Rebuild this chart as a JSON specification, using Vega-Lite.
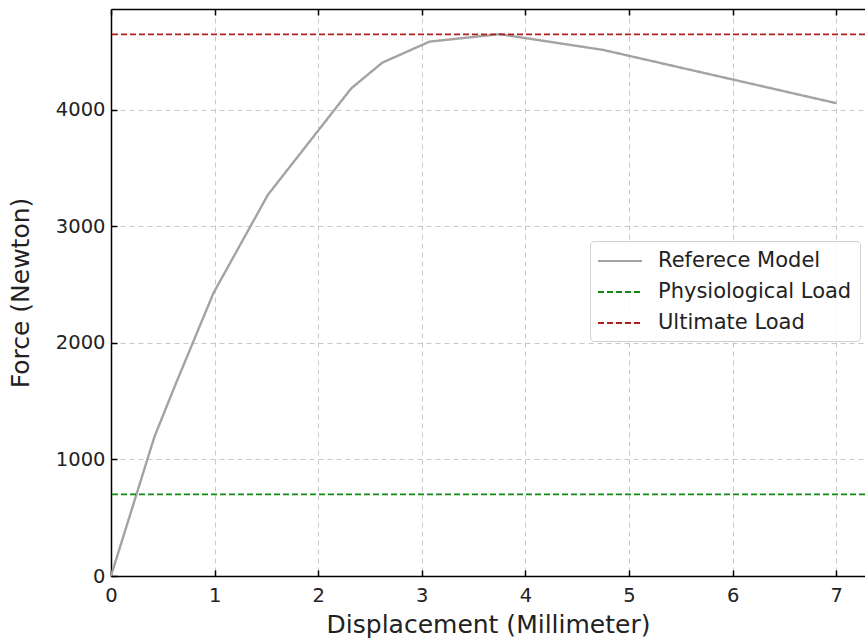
{
  "$schema": "https://vega.github.io/schema/vega-lite/v6.json",
  "width": 754,
  "height": 567,
  "autosize": {"type": "none"},
  "padding": {"left": 111, "top": 9, "right": 0, "bottom": 67},
  "background": "white",
  "config": {
    "view": {"stroke": null},
    "font": "DejaVu Sans",
    "axis": {
      "labelFont": "DejaVu Sans",
      "titleFont": "DejaVu Sans",
      "labelFontSize": 19.5,
      "titleFontSize": 25,
      "labelColor": "#222",
      "titleColor": "#222",
      "titleFontWeight": "normal",
      "domainColor": "#000",
      "domainWidth": 1.5,
      "tickColor": "#000",
      "tickWidth": 1.5,
      "tickSize": -6,
      "labelFlush": false,
      "gridColor": "#c8c8c8",
      "gridDash": [5, 4],
      "gridWidth": 1
    },
    "legend": {
      "labelFont": "DejaVu Sans",
      "labelFontSize": 21,
      "labelColor": "#222",
      "labelLimit": 400
    }
  },
  "data": {
    "values": [
      {"x": 0, "y": 0},
      {"x": 0.42, "y": 1197},
      {"x": 0.63, "y": 1660},
      {"x": 0.99, "y": 2430},
      {"x": 1.515, "y": 3272},
      {"x": 2.32, "y": 4186},
      {"x": 2.62, "y": 4406},
      {"x": 3.075, "y": 4586},
      {"x": 3.75, "y": 4650},
      {"x": 4.75, "y": 4515},
      {"x": 7.0, "y": 4058}
    ]
  },
  "layer": [
    {
      "mark": {"type": "line", "strokeWidth": 2.4, "clip": true},
      "encoding": {
        "x": {
          "field": "x", "type": "quantitative",
          "scale": {"domain": [0, 7.278], "nice": false, "zero": false},
          "axis": {"values": [0, 1, 2, 3, 4, 5, 6, 7], "title": "Displacement (Millimeter)", "labelPadding": 16, "titlePadding": 8, "format": "d"}
        },
        "y": {
          "field": "y", "type": "quantitative",
          "scale": {"domain": [0, 4866], "nice": false},
          "axis": {"values": [0, 1000, 2000, 3000, 4000], "title": "Force (Newton)", "labelPadding": 12, "titlePadding": 22, "format": "d"}
        },
        "color": {
          "datum": "Referece Model",
          "type": "nominal",
          "title": null,
          "scale": {"domain": ["Referece Model", "Physiological Load", "Ultimate Load"], "range": ["#a3a3a3", "#138a13", "#b01e1e"]},
          "legend": {
            "title": null,
            "orient": "none",
            "legendX": 479,
            "legendY": 232,
            "symbolType": "M-2,0H2",
            "symbolSize": 484,
            "symbolStrokeWidth": 2,
            "symbolOffset": 10,
            "labelOffset": 26,
            "rowPadding": 9,
            "padding": 8,
            "fillColor": "rgba(255,255,255,0.85)",
            "strokeColor": "#d0d0d0",
            "cornerRadius": 4
          }
        },
        "strokeDash": {
          "datum": "Referece Model",
          "type": "nominal",
          "title": null,
          "scale": {"domain": ["Referece Model", "Physiological Load", "Ultimate Load"], "range": [[1, 0], [6, 3], [6, 3]]},
          "legend": null
        }
      }
    },
    {
      "data": {"values": [{"load": 700, "series": "Physiological Load"}, {"load": 4648, "series": "Ultimate Load"}]},
      "mark": {"type": "rule", "strokeWidth": 1.8},
      "encoding": {
        "y": {"field": "load", "type": "quantitative"},
        "color": {"field": "series", "type": "nominal", "title": null},
        "strokeDash": {"field": "series", "type": "nominal", "title": null}
      }
    },
    {
      "data": {"values": [{"x": 0}, {"x": 7}]},
      "mark": {"type": "point", "opacity": 0},
      "encoding": {
        "x": {
          "field": "x", "type": "quantitative",
          "axis": {"orient": "top", "values": [0, 1, 2, 3, 4, 5, 6, 7], "labels": false, "title": null, "grid": false}
        }
      }
    }
  ],
  "resolve": {"axis": {"x": "independent"}}
}
